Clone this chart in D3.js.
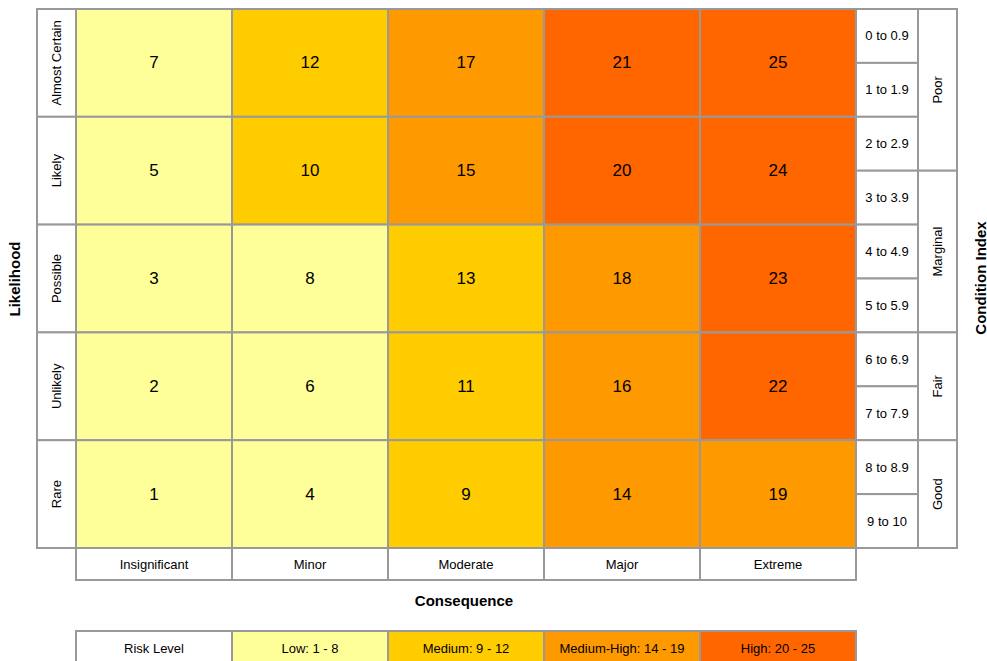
<!DOCTYPE html>
<html><head><meta charset="utf-8">
<script src="https://cdn.jsdelivr.net/npm/d3@7/dist/d3.min.js"></script>
<style>body{margin:0;background:#fff}svg{display:block;font-family:"Liberation Sans",Arial,sans-serif}</style>
</head><body><svg id="c" width="987" height="661"></svg>
<script>
const consequences = ["Insignificant","Minor","Moderate","Major","Extreme"];
const likelihoods = ["Almost Certain","Likely","Possible","Unlikely","Rare"];
const scores = [
  [7,12,17,21,25],
  [5,10,15,20,24],
  [3,8,13,18,23],
  [2,6,11,16,22],
  [1,4,9,14,19]
];
const conditionRanges = ["0 to 0.9","1 to 1.9","2 to 2.9","3 to 3.9","4 to 4.9","5 to 5.9","6 to 6.9","7 to 7.9","8 to 8.9","9 to 10"];
const conditionClasses = ["Poor","Marginal","Fair","Good"];
const conditionClassSpans = [3,3,2,2];
const riskLabels = ["Risk Level","Low: 1 - 8","Medium: 9 - 12","Medium-High: 14 - 19","High: 20 - 25"];
const riskThresholds = [9,14,20];
const riskColors = ["#FFFF99","#FFCC00","#FF9900","#FF6600"];

const svg = d3.select("#c");
const stroke = "#999", sw = 2;
const gridL = 76, gridR = 856, gridT = 9, gridB = 548;
const x = d3.scaleBand().domain(consequences).range([gridL, gridR]);
const y = d3.scaleBand().domain(likelihoods).range([gridT, gridB]);
const color = d3.scaleThreshold().domain(riskThresholds).range(riskColors);
const cy = d3.scaleBand().domain(conditionRanges).range([gridT, gridB]);

function rect(x0,y0,w,h,fill){
  svg.append("rect").attr("x",x0).attr("y",y0).attr("width",w).attr("height",h)
    .attr("fill",fill).attr("stroke",stroke).attr("stroke-width",sw);
}
function text(tx,ty,s,opts={}){
  const t = svg.append("text").attr("x",tx).attr("y",ty).text(s)
    .attr("text-anchor","middle").attr("dominant-baseline","central")
    .attr("font-size",opts.size||13).attr("fill","#000");
  if(opts.bold) t.attr("font-weight","bold");
  if(opts.rot) t.attr("transform",`rotate(-90,${tx},${ty})`);
  return t;
}

// heat cells
scores.forEach((row,i)=>row.forEach((v,j)=>{
  const c = consequences[j], l = likelihoods[i];
  rect(x(c), y(l), x.bandwidth(), y.bandwidth(), color(v));
}));
scores.forEach((row,i)=>row.forEach((v,j)=>{
  text(x(consequences[j])+x.bandwidth()/2, y(likelihoods[i])+y.bandwidth()/2, v, {size:17});
}));

// likelihood labels
likelihoods.forEach(l=>{
  rect(37, y(l), gridL-37, y.bandwidth(), "#fff");
  text((37+gridL)/2, y(l)+y.bandwidth()/2, l, {rot:true});
});

// consequence labels
consequences.forEach(c=>{
  rect(x(c), gridB, x.bandwidth(), 32, "#fff");
  text(x(c)+x.bandwidth()/2, gridB+16, c);
});

// condition ranges
conditionRanges.forEach(r=>{
  rect(856, cy(r), 62, cy.bandwidth(), "#fff");
  text(887, cy(r)+cy.bandwidth()/2, r);
});
let acc = 0;
conditionClasses.forEach((c,i)=>{
  const y0 = cy(conditionRanges[acc]);
  const h = cy.bandwidth()*conditionClassSpans[i];
  rect(918, y0, 39, h, "#fff");
  text(937.5, y0+h/2, c, {rot:true});
  acc += conditionClassSpans[i];
});

// legend
riskLabels.forEach((r,i)=>{
  rect(gridL + i*x.bandwidth(), 631, x.bandwidth(), 32, i===0?"#fff":riskColors[i-1]);
  text(gridL + i*x.bandwidth() + x.bandwidth()/2, 648, r);
});

// titles
text(464, 600, "Consequence", {size:15, bold:true});
text(14, 279, "Likelihood", {size:15, bold:true, rot:true});
text(980, 278, "Condition Index", {size:15, bold:true, rot:true});
</script></body></html>
